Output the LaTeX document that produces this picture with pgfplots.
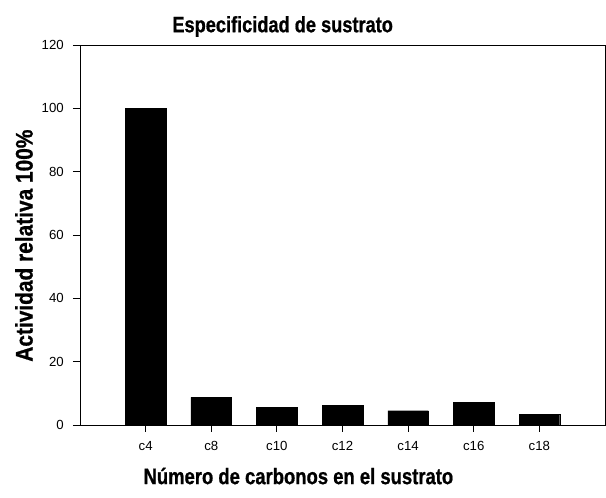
\documentclass[border=0pt]{standalone}
\usepackage{fontspec}
\setmainfont{Liberation Sans}
\newfontfamily\narrowbold[FakeStretch=0.82,FakeBold=0.8]{Liberation Sans Bold}
\newfontfamily\ynarrowbold[FakeStretch=0.87,FakeBold=0.8]{Liberation Sans Bold}
\usepackage{pgfplots}
\pgfplotsset{compat=1.18}
\begin{document}
\begin{tikzpicture}
\begin{axis}[
  scale only axis,
  width=525pt, height=380pt,
  xmin=-1, xmax=7, ymin=0, ymax=120,
  ytick={0,20,40,60,80,100,120},
  xtick={0,1,2,3,4,5,6},
  xticklabels={c4,c8,c10,c12,c14,c16,c18},
  tick align=outside,
  major tick length=7pt,
  xtick pos=bottom, ytick pos=left,
  axis line style={line width=0.8pt},
  tick style={line width=0.8pt, black},
  ticklabel style={font=\fontsize{13.2}{15}\selectfont},
  yticklabel style={xshift=-5.7pt},
  xticklabel style={yshift=-6pt},
  /pgf/number format/assume math mode=true,
  title={\narrowbold\fontsize{22.2}{24}\selectfont Especificidad de sustrato},
  title style={at={(rel axis cs:0.386,1)}, anchor=center, yshift=12.5pt},
  xlabel={\narrowbold\fontsize{22.5}{24}\selectfont Número de carbonos en el sustrato},
  xlabel style={at={(rel axis cs:0.416,0)}, anchor=center, yshift=-51pt},
  ylabel={\ynarrowbold\fontsize{24}{26}\selectfont Actividad relativa 100\%},
  ylabel style={at={(rel axis cs:0,0.472)}, anchor=center, yshift=56pt},
]
\addplot[ybar, bar width=0.62, fill=black, draw=black] coordinates {
  (0,100) (1,8.7) (2,5.6) (3,6.2) (4,4.5) (5,7.2) (6,3.3)
};
\end{axis}
\pgfresetboundingbox
\path ([xshift=-80pt,yshift=-73pt]current axis.south west) rectangle ([xshift=1pt,yshift=45pt]current axis.north east);
\end{tikzpicture}
\end{document}
